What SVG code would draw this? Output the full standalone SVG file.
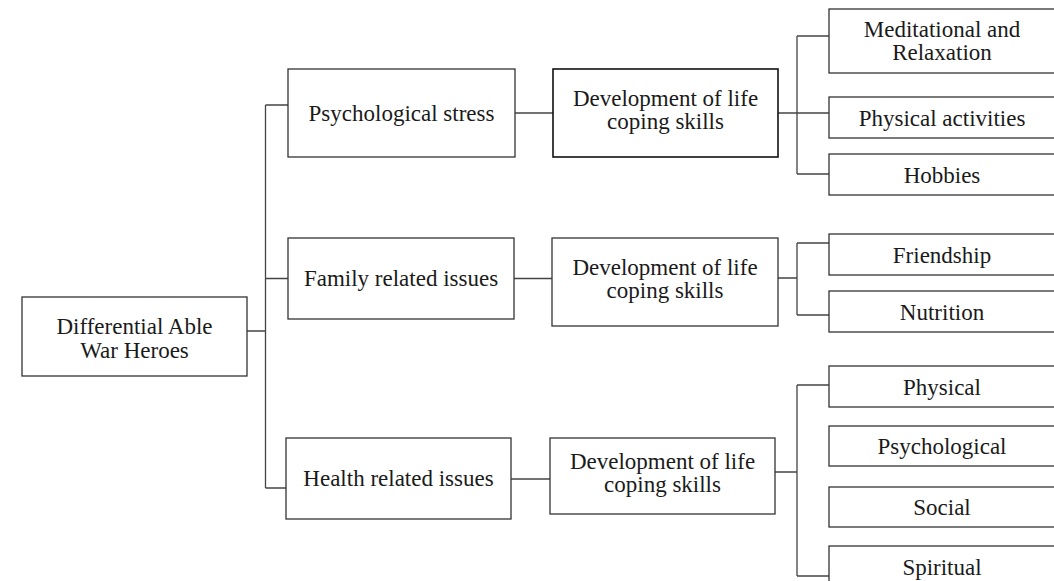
<svg xmlns="http://www.w3.org/2000/svg" width="1054" height="581" viewBox="0 0 1054 581">
<style>
  .box { fill: #ffffff; stroke: #333333; stroke-width: 1.3; }
  .boxb { fill: #ffffff; stroke: #111111; stroke-width: 1.6; }
  .lbl { font-family: "Liberation Serif", "Times New Roman", serif; font-size: 23px; fill: #1a1a1a; text-anchor: middle; }
  .conn { fill: none; stroke: #444444; stroke-width: 1.3; }
</style>
<rect width="1054" height="581" fill="#ffffff"/>
<g id="connectors">
  <path class="conn" d="M247,331 H265.5 M265.5,105 V488 M265.5,105 H288 M265.5,278.5 H288 M265.5,488 H286"/>
  <path class="conn" d="M515,113 H553 M514,278.5 H552 M511,479 H550"/>
  <path class="conn" d="M778,113 H829 M797,36 V174 M797,36 H829 M797,174 H829"/>
  <path class="conn" d="M778,278 H797 M797,243 V315 M797,243 H829 M797,315 H829"/>
  <path class="conn" d="M775,472 H797 M797,385 V576 M797,385 H829 M797,576 H829"/>
</g>
<g id="root">
  <rect class="box" x="22" y="297" width="225" height="79"/>
  <text class="lbl" x="134.5" y="334">Differential Able</text>
  <text class="lbl" x="134.5" y="358">War Heroes</text>
</g>
<g id="psych-stress">
  <rect class="box" x="288" y="69" width="227" height="88"/>
  <text class="lbl" x="401.5" y="121">Psychological stress</text>
</g>
<g id="family">
  <rect class="box" x="288" y="238" width="226" height="81"/>
  <text class="lbl" x="401" y="286">Family related issues</text>
</g>
<g id="health">
  <rect class="box" x="286" y="438" width="225" height="81"/>
  <text class="lbl" x="398.5" y="486">Health related issues</text>
</g>
<g id="dev1">
  <rect class="boxb" x="553" y="69" width="225" height="88"/>
  <text class="lbl" x="665.5" y="106">Development of life</text>
  <text class="lbl" x="665.5" y="129">coping skills</text>
</g>
<g id="dev2">
  <rect class="box" x="552" y="238" width="226" height="88"/>
  <text class="lbl" x="665" y="275">Development of life</text>
  <text class="lbl" x="665" y="298">coping skills</text>
</g>
<g id="dev3">
  <rect class="box" x="550" y="438" width="225" height="76"/>
  <text class="lbl" x="662.5" y="469">Development of life</text>
  <text class="lbl" x="662.5" y="492">coping skills</text>
</g>
<g id="meditational">
  <rect class="box" x="829" y="9" width="240" height="64"/>
  <text class="lbl" x="942" y="37">Meditational and</text>
  <text class="lbl" x="942" y="60">Relaxation</text>
</g>
<g id="physical-activities">
  <rect class="box" x="829" y="97" width="240" height="41"/>
  <text class="lbl" x="942" y="125.5">Physical activities</text>
</g>
<g id="hobbies">
  <rect class="box" x="829" y="154" width="240" height="41"/>
  <text class="lbl" x="942" y="183">Hobbies</text>
</g>
<g id="friendship">
  <rect class="box" x="829" y="234" width="240" height="41"/>
  <text class="lbl" x="942" y="263">Friendship</text>
</g>
<g id="nutrition">
  <rect class="box" x="829" y="291" width="240" height="41"/>
  <text class="lbl" x="942" y="320">Nutrition</text>
</g>
<g id="physical">
  <rect class="box" x="829" y="366" width="240" height="41"/>
  <text class="lbl" x="942" y="395">Physical</text>
</g>
<g id="psychological">
  <rect class="box" x="829" y="426" width="240" height="40"/>
  <text class="lbl" x="942" y="454">Psychological</text>
</g>
<g id="social">
  <rect class="box" x="829" y="487" width="240" height="40"/>
  <text class="lbl" x="942" y="515">Social</text>
</g>
<g id="spiritual">
  <rect class="box" x="829" y="546" width="240" height="41"/>
  <text class="lbl" x="942" y="575">Spiritual</text>
</g>
</svg>
